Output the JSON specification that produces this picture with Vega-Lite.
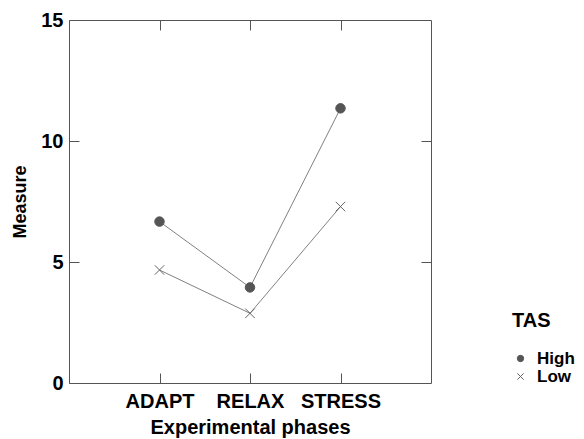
{
  "$schema": "https://vega.github.io/schema/vega-lite/v6.json",
  "autosize": "none",
  "padding": {"left": 69, "top": 20, "right": 153, "bottom": 56},
  "width": 362,
  "height": 363,
  "background": "white",
  "config": {
    "font": "Liberation Sans",
    "view": {"stroke": "#555555", "strokeWidth": 1},
    "axis": {"grid": false, "domain": false, "tickColor": "#555555", "tickSize": -10, "labelColor": "black", "labelFontSize": 20, "labelFontWeight": "bold", "titleColor": "black", "titleFontSize": 20, "titleFontWeight": "bold"},
    "legend": {"orient": "none", "legendX": 443, "legendY": 291, "titleFontSize": 20, "titleFontWeight": "bold", "titleColor": "black", "titlePadding": 19, "labelFontSize": 17, "labelFontWeight": "bold", "labelColor": "black", "symbolSize": 40, "symbolStrokeWidth": 1, "rowPadding": 0, "labelOffset": 8}
  },
  "data": {"values": [
    {"phase": "ADAPT", "TAS": "High", "measure": 6.67},
    {"phase": "RELAX", "TAS": "High", "measure": 3.95},
    {"phase": "STRESS", "TAS": "High", "measure": 11.35},
    {"phase": "ADAPT", "TAS": "Low", "measure": 4.67},
    {"phase": "RELAX", "TAS": "Low", "measure": 2.88},
    {"phase": "STRESS", "TAS": "Low", "measure": 7.29}
  ]},
  "layer": [
    {
      "mark": {"type": "line", "color": "#808080", "strokeWidth": 1},
      "encoding": {
        "x": {"field": "phase", "type": "nominal", "sort": ["ADAPT", "RELAX", "STRESS"], "scale": {"type": "point", "padding": 1},
              "axis": {"orient": "bottom", "labelAngle": 0, "labelPadding": 18, "title": "Experimental phases", "titlePadding": 6}},
        "y": {"field": "measure", "type": "quantitative", "scale": {"domain": [0, 15], "nice": false},
              "axis": {"orient": "left", "values": [0, 5, 10, 15], "labelPadding": 16, "title": "Measure", "titleFontSize": 18, "titlePadding": 11}},
        "detail": {"field": "TAS"}
      }
    },
    {
      "mark": {"type": "point", "strokeWidth": 1, "size": 90, "opacity": 1},
      "encoding": {
        "x": {"field": "phase", "type": "nominal", "sort": ["ADAPT", "RELAX", "STRESS"],
              "axis": {"orient": "top", "labels": false, "title": null}},
        "y": {"field": "measure", "type": "quantitative",
              "axis": {"orient": "right", "values": [5, 10], "labels": false, "title": null}},
        "shape": {"field": "TAS", "type": "nominal", "scale": {"domain": ["High", "Low"], "range": ["circle", "M-1,-1L1,1M-1,1L1,-1"]}, "legend": {"title": "TAS"}},
        "fill": {"field": "TAS", "type": "nominal", "scale": {"domain": ["High", "Low"], "range": ["#555555", "transparent"]}, "legend": {"title": "TAS"}},
        "stroke": {"field": "TAS", "type": "nominal", "scale": {"domain": ["High", "Low"], "range": ["#555555", "#666666"]}, "legend": {"title": "TAS"}}
      }
    }
  ],
  "resolve": {"axis": {"x": "independent", "y": "independent"}}
}
